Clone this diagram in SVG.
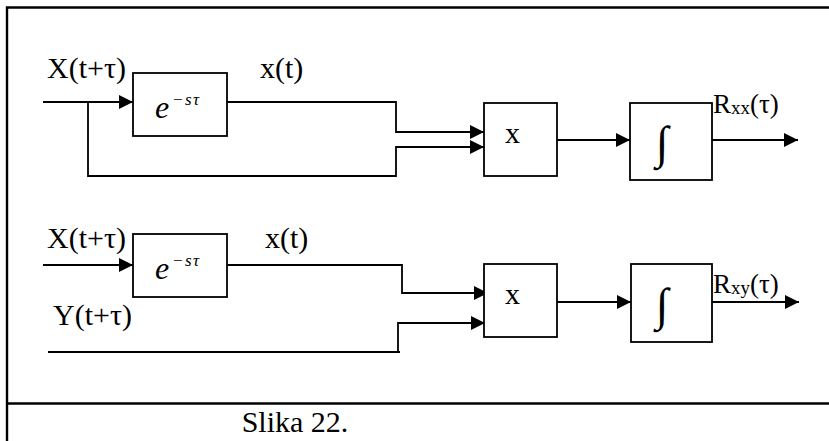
<svg xmlns="http://www.w3.org/2000/svg" width="829" height="441" viewBox="0 0 829 441">
<style>
.box{fill:#fff;stroke:#000;stroke-width:1.8}
.ln{fill:none;stroke:#000;stroke-width:1.8}
.fr{fill:none;stroke:#000;stroke-width:2.4}
.t{font-family:"Liberation Serif","Times New Roman",serif;font-size:30px;fill:#000}
.r{font-family:"Liberation Serif","Times New Roman",serif;font-size:27px;fill:#000}
.e{font-family:"Liberation Serif","Times New Roman",serif;font-style:italic;fill:#000}
.int{font-family:"Liberation Serif","Times New Roman",serif;font-size:46px;fill:#000}
</style>
<defs>
<marker id="ah" markerUnits="userSpaceOnUse" markerWidth="14" markerHeight="14" refX="14" refY="7" orient="auto" viewBox="0 0 14 14">
<path d="M0,0 L14,7 L0,14 z" fill="#000"/>
</marker>
</defs>
<g id="frame">
<path class="fr" d="M7,441 V7.5 H829"/>
<path class="fr" d="M7,403.5 H829"/>
</g>
<g id="connectors">
<path class="ln" d="M43,102 H133" marker-end="url(#ah)"/>
<path class="ln" d="M220,102 H396 V132 H484" marker-end="url(#ah)"/>
<path class="ln" d="M88,102 V176 H396 V147 H484" marker-end="url(#ah)"/>
<path class="ln" d="M557,140 H630" marker-end="url(#ah)"/>
<path class="ln" d="M712,140 H798" marker-end="url(#ah)"/>
<path class="ln" d="M43,265 H133" marker-end="url(#ah)"/>
<path class="ln" d="M227,265 H402 V293 H488" marker-end="url(#ah)"/>
<path class="ln" d="M48,352 H400"/>
<path class="ln" d="M398,352 V323 H485" marker-end="url(#ah)"/>
<path class="ln" d="M557,302 H631" marker-end="url(#ah)"/>
<path class="ln" d="M712,302 H799" marker-end="url(#ah)"/>
</g>
<g id="delay1">
<rect class="box" x="133" y="73" width="94" height="63"/>
<text class="e" x="155" y="118" font-size="32">e</text>
<text class="e" x="172" y="105" font-size="17" letter-spacing="1.5">−sτ</text>
</g>
<g id="prod1">
<rect class="box" x="484" y="103" width="73" height="73"/>
<text class="t" x="505" y="143">x</text>
</g>
<g id="int1">
<rect class="box" x="630" y="103" width="82" height="77"/>
<text class="int" x="662" y="158" text-anchor="middle">∫</text>
</g>
<g id="delay2">
<rect class="box" x="133" y="234" width="94" height="63"/>
<text class="e" x="155" y="279" font-size="32">e</text>
<text class="e" x="172" y="266" font-size="17" letter-spacing="1.5">−sτ</text>
</g>
<g id="prod2">
<rect class="box" x="484" y="264" width="73" height="73"/>
<text class="t" x="505" y="304">x</text>
</g>
<g id="int2">
<rect class="box" x="631" y="264" width="81" height="78"/>
<text class="int" x="662" y="320" text-anchor="middle">∫</text>
</g>
<g id="labels">
<text class="t" x="47" y="78">X(t+τ)</text>
<text class="t" x="260" y="78">x(t)</text>
<text class="r" x="713" y="113">R<tspan font-size="19" dy="1">xx</tspan><tspan dy="-1">(τ)</tspan></text>
<text class="t" x="47" y="248">X(t+τ)</text>
<text class="t" x="265" y="248">x(t)</text>
<text class="t" x="53" y="325">Y(t+τ)</text>
<text class="r" x="713" y="293">R<tspan font-size="19" dy="1">xy</tspan><tspan dy="-1">(τ)</tspan></text>
<text class="t" x="295" y="432" text-anchor="middle" font-size="27">Slika 22.</text>
</g>
</svg>
